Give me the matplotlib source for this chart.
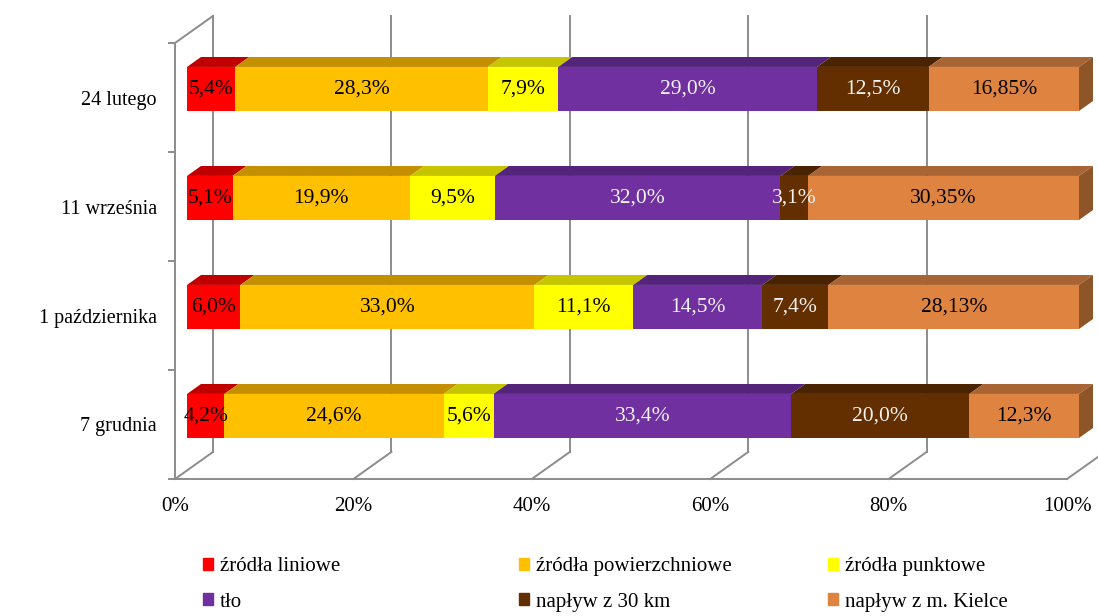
import numpy as np
import matplotlib
matplotlib.use("Agg")
from matplotlib import pyplot as plt
from matplotlib.patches import Patch

plt.rcParams['font.family'] = ['Liberation Serif', 'DejaVu Serif']

# categories bottom -> top
dates = ["7 grudnia", "1 października", "11 września", "24 lutego"]

series_names = ["źródła liniowe", "źródła powierzchniowe", "źródła punktowe",
                "tło", "napływ z 30 km", "napływ z m. Kielce"]

zrodla_liniowe = [4.2, 6.0, 5.1, 5.4]
zrodla_powierzchniowe = [24.6, 33.0, 19.9, 28.3]
zrodla_punktowe = [5.6, 11.1, 9.5, 7.9]
tlo = [33.4, 14.5, 32.0, 29.0]
naplyw_30km = [20.0, 7.4, 3.1, 12.5]
naplyw_kielce = [12.3, 28.13, 30.35, 16.85]

x_ticks = [0, 20, 40, 60, 80, 100]

front_colors = ["#FF0000", "#FFC000", "#FFFF00", "#7030A0", "#632F00", "#DE8440"]
top_colors = ["#C00000", "#C49000", "#C6C600", "#54247A", "#4A2400", "#A86432"]
side_color = "#8E5528"
label_colors = ["black", "black", "black", "#F2F2F2", "#F2F2F2", "black"]
grid_col = "#8C8C8C"

values = np.array([zrodla_liniowe, zrodla_powierzchniowe, zrodla_punktowe,
                   tlo, naplyw_30km, naplyw_kielce])
shares = values / values.sum(axis=0) * 100  # 100% stacked

W, H = 1098, 616
fig = plt.figure(figsize=(W / 100, H / 100), dpi=100)
ax = fig.add_axes([175 / W, (H - 479) / H, 892 / W, 436 / H])
ax.set_xlim(0, 100)
ax.set_ylim(0, 4)

# depth of the 3D box (in data units) and bar position inside it
dX, dY = 4.26, 0.248
f1, f2 = 0.316, 0.684
hh = 0.202

# back wall and floor
for xv in x_ticks:
    ax.plot([xv + dX, xv + dX], [dY, 4 + dY], color=grid_col, lw=1.4,
            clip_on=False, zorder=0)
    ax.plot([xv, xv + dX], [0, dY], color=grid_col, lw=1.4, clip_on=False, zorder=0)
ax.plot([0, dX], [4, 4 + dY], color=grid_col, lw=1.4, clip_on=False, zorder=0)

def fmt(v):
    s = f"{v:.1f}" if abs(round(v, 1) - v) < 1e-9 else f"{v:.2f}"
    return s.replace(".", ",") + "%"

for i in range(len(dates)):
    yc = i + 0.5
    left = 0.0
    for s in range(len(series_names)):
        w = shares[s, i]
        x0 = left + f1 * dX
        y0 = yc + f1 * dY
        ax.barh(y0, w, left=x0, height=2 * hh, color=front_colors[s],
                clip_on=False, zorder=3)
        ax.fill([left + f1 * dX, left + w + f1 * dX, left + w + f2 * dX, left + f2 * dX],
                [yc + hh + f1 * dY, yc + hh + f1 * dY, yc + hh + f2 * dY, yc + hh + f2 * dY],
                color=top_colors[s], lw=0, clip_on=False, zorder=2)
        ax.text(x0 + w / 2, y0, fmt(values[s, i]), ha="center", va="center",
                fontsize=15.5, color=label_colors[s], zorder=5)
        left += w
    ax.fill([left + f1 * dX, left + f2 * dX, left + f2 * dX, left + f1 * dX],
            [yc - hh + f1 * dY, yc - hh + f2 * dY, yc + hh + f2 * dY, yc + hh + f1 * dY],
            color=side_color, lw=0, clip_on=False, zorder=2)

for sp in ["top", "right"]:
    ax.spines[sp].set_visible(False)
for sp in ["left", "bottom"]:
    ax.spines[sp].set_color(grid_col)
    ax.spines[sp].set_linewidth(1.4)

ax.set_xticks(x_ticks)
ax.set_xticklabels([f"{t}%" for t in x_ticks], fontsize=15)
ax.tick_params(axis="x", length=0, pad=13)
ax.set_yticks(range(5))
ax.set_yticklabels([])
ax.tick_params(axis="y", which="major", length=5, color=grid_col, width=1.4)
ax.set_yticks([i + 0.5 for i in range(len(dates))], minor=True)
ax.set_yticklabels(dates, minor=True, fontsize=14.5)
ax.tick_params(axis="y", which="minor", length=0, pad=13)

handles = [Patch(color=c) for c in front_colors]
col_x = [203, 519, 828]
for c in range(3):
    fig.legend([handles[c], handles[c + 3]], [series_names[c], series_names[c + 3]],
               loc="upper left", bbox_to_anchor=(col_x[c] / W, 1 - 557 / H),
               frameon=False, fontsize=15, handlelength=0.5, handleheight=0.5,
               handletextpad=0.3, labelspacing=0.8, borderpad=0, borderaxespad=0)

fig.savefig("out.png", dpi=100)
